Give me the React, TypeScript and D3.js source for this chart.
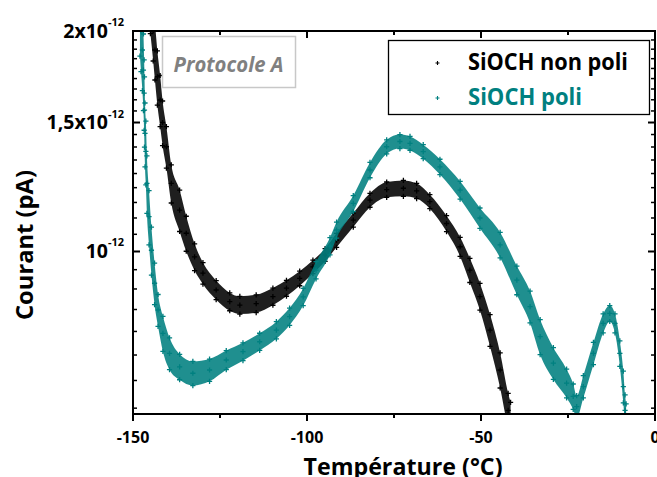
import React from "react";
import * as d3 from "d3";

const W = 657;
const H = 477;
const PLOT = { left: 133, right: 655, top: 31, bottom: 414 };

// axes
const xDomain = [-150, 0];
const yDomain = [0.6, 2]; // x 1e-12
const xMajorTicks = [-150, -100, -50, 0];
const xMinorTicks = [-125, -75, -25];
const yMajorTicks = [1, 1.5, 2];
const yTickMantissa = ["10", "1,5x10", "2x10"];
const yTickExponent = "-12";
const yMajorStep = 0.5;
const yMinorDivisions = 9;

const xTitle = "Température (°C)";
const yTitle = "Courant (pA)";
const annotation = "Protocole A";
const seriesNames = ["SiOCH non poli", "SiOCH poli"];
const seriesColors = ["#000000", "#008080"];

// SiOCH non poli : temperature (°C), current (x1e-12), relative scatter half-width
const blackTemp = [-145.0, -144.2, -143.7, -143.0, -142.2, -141.5, -140.4, -139.0, -136.6, -134.7, -132.3, -129.9, -126.1, -122.2, -119.3, -114.6, -109.8, -105.9, -102.1, -98.3, -94.8, -91.5, -86.7, -81.9, -77.1, -72.3, -68.5, -64.7, -59.9, -56.0, -53.2, -50.3, -47.4, -44.5, -42.2, -41.5];
const blackCurrent = [2.18, 2.0, 1.884, 1.732, 1.61, 1.5, 1.39, 1.239, 1.139, 1.059, 0.983, 0.934, 0.886, 0.854, 0.845, 0.849, 0.868, 0.891, 0.919, 0.953, 0.989, 1.036, 1.104, 1.175, 1.215, 1.22, 1.21, 1.17, 1.092, 1.015, 0.943, 0.868, 0.781, 0.689, 0.607, 0.59];
const blackSpread = [0.09, 0.09, 0.09, 0.085, 0.08, 0.07, 0.065, 0.06, 0.065, 0.055, 0.042, 0.034, 0.03, 0.028, 0.028, 0.028, 0.027, 0.025, 0.023, 0.021, 0.02, 0.022, 0.022, 0.022, 0.024, 0.025, 0.024, 0.022, 0.025, 0.03, 0.038, 0.042, 0.05, 0.055, 0.055, 0.055];

// SiOCH poli
const tealTemp = [-148.0, -147.7, -147.3, -147.0, -146.8, -146.7, -146.55, -146.3, -146.0, -145.4, -144.7, -143.8, -142.8, -141.4, -139.5, -136.6, -132.8, -128.0, -123.2, -118.4, -113.6, -108.8, -105.0, -101.1, -97.4, -93.4, -91.5, -86.7, -81.9, -77.1, -73.3, -70.4, -66.6, -61.8, -56.0, -50.3, -44.5, -39.7, -35.9, -33.0, -29.2, -25.4, -23.5, -22.5, -20.6, -17.7, -14.9, -13.0, -11.5, -10.1, -9.1, -8.6, -8.3];
const tealCurrent = [2.1, 2.0, 1.884, 1.769, 1.645, 1.56, 1.45, 1.37, 1.239, 1.116, 1.004, 0.905, 0.832, 0.773, 0.726, 0.696, 0.682, 0.689, 0.711, 0.73, 0.753, 0.781, 0.815, 0.867, 0.943, 1.017, 1.07, 1.163, 1.292, 1.39, 1.413, 1.405, 1.369, 1.305, 1.213, 1.111, 1.021, 0.914, 0.841, 0.765, 0.704, 0.661, 0.634, 0.614, 0.654, 0.726, 0.798, 0.823, 0.798, 0.726, 0.654, 0.607, 0.59];
const tealSpread = [0.12, 0.12, 0.12, 0.12, 0.11, 0.11, 0.1, 0.1, 0.09, 0.085, 0.075, 0.065, 0.05, 0.055, 0.05, 0.04, 0.038, 0.035, 0.03, 0.028, 0.027, 0.027, 0.027, 0.027, 0.027, 0.027, 0.025, 0.025, 0.024, 0.022, 0.022, 0.022, 0.022, 0.024, 0.028, 0.032, 0.04, 0.045, 0.05, 0.055, 0.05, 0.045, 0.04, 0.035, 0.035, 0.035, 0.03, 0.025, 0.03, 0.04, 0.05, 0.05, 0.05];

type Pt = { t: number; v: number; s: number };
const zip = (t: number[], v: number[], s: number[]): Pt[] => t.map((tt, i) => ({ t: tt, v: v[i], s: s[i] }));

const FONT = "'Open Sans', 'DejaVu Sans', sans-serif";
const PLUS = "M-2.6,0H2.6M0,-2.6V2.6";

export default function App() {
  const x = d3.scaleLinear().domain(xDomain).range([PLOT.left, PLOT.right]);
  const y = d3.scaleLog().domain(yDomain).range([PLOT.bottom, PLOT.top]);

  const series = [zip(blackTemp, blackCurrent, blackSpread), zip(tealTemp, tealCurrent, tealSpread)];

  const area = d3
    .area<Pt>()
    .x((d) => x(d.t))
    .y0((d) => y(d.v * (1 - d.s)))
    .y1((d) => y(d.v * (1 + d.s)))
    .curve(d3.curveMonotoneX);

  const yMinor: number[] = [];
  for (let k = -30; k <= 30; k++) {
    const v = 1 + (k * yMajorStep) / yMinorDivisions;
    if (k % yMinorDivisions === 0) continue;
    if (v >= yDomain[0] - 1e-9 && v <= yDomain[1] + 1e-9) yMinor.push(v);
  }

  const axisStroke = { stroke: "#000", strokeWidth: 2 };

  return (
    <svg width={W} height={H} style={{ position: "absolute", left: 0, top: 0, background: "#fff" }} fontFamily={FONT}>
      <defs>
        <clipPath id="plotClip">
          <rect x={PLOT.left} y={PLOT.top} width={PLOT.right - PLOT.left} height={PLOT.bottom - PLOT.top} />
        </clipPath>
      </defs>
      <rect x={0} y={0} width={W} height={H} fill="#fff" />

      {/* data */}
      <g clipPath="url(#plotClip)">
        {series.map((pts, si) => (
          <g key={si}>
            <path d={area(pts) || ""} fill={seriesColors[si]} fillOpacity={0.88} />
            {pts.map((d, i) => (
              <g key={i} stroke={seriesColors[si]} strokeWidth={1.3} fill="none">
                <path d={PLUS} transform={`translate(${x(d.t)},${y(d.v)})`} />
                <path d={PLUS} transform={`translate(${x(d.t)},${y(d.v * (1 + d.s))})`} />
                <path d={PLUS} transform={`translate(${x(d.t)},${y(d.v * (1 - d.s))})`} />
              </g>
            ))}
          </g>
        ))}
      </g>

      {/* annotation box */}
      <rect x={162.5} y={36.5} width={133} height={51} fill="#fff" stroke="#c8c8c8" strokeWidth={1.5} />
      <text x={228.5} y={72} textAnchor="middle" fontSize={22} fontWeight={700} fontStyle="italic" fill="#808080" textLength={110} lengthAdjust="spacingAndGlyphs">
        {annotation}
      </text>

      {/* legend */}
      <rect x={388.5} y={40.5} width={261} height={74} fill="#fff" stroke="#000" strokeWidth={1.3} />
      {seriesNames.map((name, i) => (
        <g key={name}>
          <path d="M-2,0H2M0,-2V2" transform={`translate(437.5,${63 + i * 35})`} stroke={seriesColors[i]} strokeWidth={1.1} />
          <text x={468} y={70 + i * 35} fontSize={23} fontWeight={700} fill={seriesColors[i]} textLength={i === 0 ? 160 : 114} lengthAdjust="spacingAndGlyphs">
            {name}
          </text>
        </g>
      ))}

      {/* frame */}
      <rect x={PLOT.left} y={PLOT.top} width={PLOT.right - PLOT.left} height={PLOT.bottom - PLOT.top} fill="none" {...axisStroke} />

      {/* x ticks */}
      {xMajorTicks.map((t) => (
        <g key={`xM${t}`} {...axisStroke}>
          <line x1={x(t)} x2={x(t)} y1={PLOT.bottom} y2={PLOT.bottom + 7} />
          <line x1={x(t)} x2={x(t)} y1={PLOT.top} y2={PLOT.top + 7} />
        </g>
      ))}
      {xMinorTicks.map((t) => (
        <g key={`xm${t}`} {...axisStroke}>
          <line x1={x(t)} x2={x(t)} y1={PLOT.bottom} y2={PLOT.bottom + 4} />
          <line x1={x(t)} x2={x(t)} y1={PLOT.top} y2={PLOT.top + 4} />
        </g>
      ))}
      {xMajorTicks.map((t) => (
        <text key={`xl${t}`} x={x(t)} y={443} textAnchor="middle" fontSize={16} fontWeight={700} fill="#000">
          {t}
        </text>
      ))}

      {/* y ticks */}
      {yMajorTicks.map((v) => (
        <g key={`yM${v}`} {...axisStroke}>
          <line x1={PLOT.left} x2={PLOT.left + 7} y1={y(v)} y2={y(v)} />
          <line x1={PLOT.right} x2={PLOT.right - 7} y1={y(v)} y2={y(v)} />
        </g>
      ))}
      {yMinor.map((v) => (
        <g key={`ym${v}`} stroke="#000" strokeWidth={1.5}>
          <line x1={PLOT.left} x2={PLOT.left + 4} y1={y(v)} y2={y(v)} />
          <line x1={PLOT.right} x2={PLOT.right - 4} y1={y(v)} y2={y(v)} />
        </g>
      ))}
      {yMajorTicks.map((v, i) => (
        <g key={`yl${v}`}>
          <text x={108} y={y(v) + 6.5} textAnchor="end" fontSize={19.5} fontWeight={700} fill="#000">
            {yTickMantissa[i]}
          </text>
          <text x={108} y={y(v) - 5} textAnchor="start" fontSize={11} fontWeight={700} fill="#000">
            {yTickExponent}
          </text>
        </g>
      ))}

      {/* titles */}
      <text x={403} y={475} textAnchor="middle" fontSize={24} fontWeight={700} fill="#000" textLength={199} lengthAdjust="spacingAndGlyphs">
        {xTitle}
      </text>
      <text transform="translate(33,245) rotate(-90)" textAnchor="middle" fontSize={24} fontWeight={700} fill="#000" textLength={150} lengthAdjust="spacingAndGlyphs">
        {yTitle}
      </text>
    </svg>
  );
}
